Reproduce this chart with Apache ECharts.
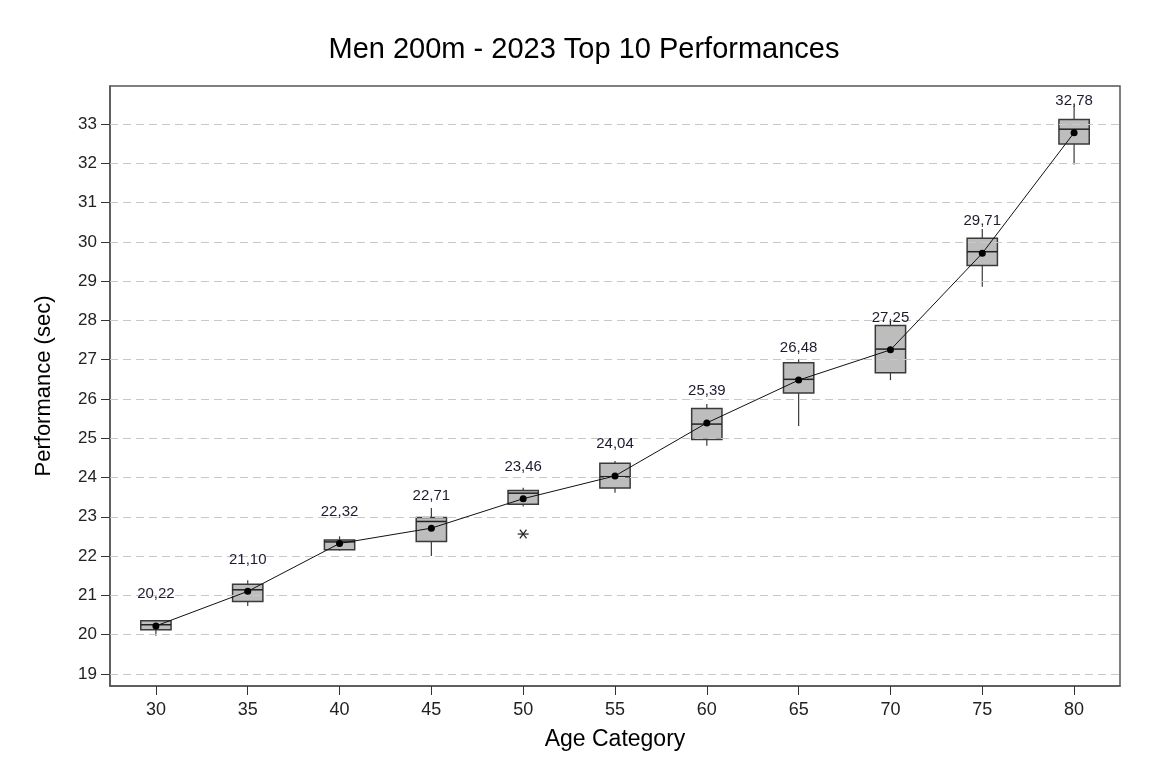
<!DOCTYPE html>
<html>
<head>
<meta charset="utf-8">
<script src="https://cdn.jsdelivr.net/npm/echarts@6/dist/echarts.min.js"></script>
<style>
html,body{margin:0;padding:0;background:#fff;}
#chart{width:1168px;height:778px;}
</style>
</head>
<body>
<div id="chart"></div>
<script>
var categories = ['30','35','40','45','50','55','60','65','70','75','80'];
var whiskerLow  = [19.97, 20.73, 22.14, 22.00, 23.26, 23.61, 24.81, 25.31, 26.48, 28.86, 31.97];
var q1          = [20.12, 20.84, 22.16, 22.37, 23.32, 23.73, 24.97, 26.15, 26.67, 29.40, 32.49];
var medians     = [20.25, 21.14, 22.36, 22.88, 23.60, 24.02, 25.36, 26.50, 27.27, 29.75, 32.87];
var q3          = [20.35, 21.28, 22.41, 22.98, 23.67, 24.36, 25.76, 26.92, 27.87, 30.09, 33.12];
var whiskerHigh = [20.35, 21.38, 22.50, 23.22, 23.74, 24.42, 25.87, 27.01, 28.04, 30.33, 33.48];
var means       = [20.22, 21.10, 22.32, 22.71, 23.46, 24.04, 25.39, 26.48, 27.25, 29.71, 32.78];
var outlierCats = ['50'];
var outlierVals = [22.56];
var yTicks = [19,20,21,22,23,24,25,26,27,28,29,30,31,32,33];

var boxData = categories.map(function(c, i){
  return [i, whiskerLow[i], q1[i], medians[i], q3[i], whiskerHigh[i]];
});
var outlierData = outlierCats.map(function(c, i){
  return [categories.indexOf(c), outlierVals[i]];
});

var chart = echarts.init(document.getElementById('chart'));
var option = {
  backgroundColor: '#fff',
  animation: false,
  title: {
    text: 'Men 200m - 2023 Top 10 Performances',
    left: 'center',
    top: 30,
    textStyle: {fontFamily: 'Liberation Sans, Arial, sans-serif', fontSize: 29, fontWeight: 'normal', color: '#000'}
  },
  grid: {left: 110, right: 48, top: 86, bottom: 92, show: true, borderColor: '#555', borderWidth: 1.5, backgroundColor: 'transparent'},
  xAxis: {
    type: 'category',
    data: categories,
    boundaryGap: true,
    name: 'Age Category',
    nameLocation: 'middle',
    nameGap: 42,
    nameTextStyle: {fontFamily: 'Liberation Sans, Arial, sans-serif', fontSize: 23, color: '#000'},
    axisLine: {show: true, lineStyle: {color: '#555', width: 1.5}},
    axisTick: {show: true, alignWithLabel: true, length: 9, lineStyle: {color: '#333'}},
    axisLabel: {fontFamily: 'Liberation Sans Narrow, Arial Narrow, sans-serif', fontSize: 18, color: '#222', margin: 15},
    splitLine: {show: false}
  },
  yAxis: {
    type: 'value',
    min: 18.69,
    max: 33.97,
    name: 'Performance (sec)',
    nameLocation: 'middle',
    nameGap: 55,
    nameTextStyle: {fontFamily: 'Liberation Sans, Arial, sans-serif', fontSize: 22, color: '#000'},
    axisLine: {show: true, lineStyle: {color: '#555', width: 1.5}},
    axisTick: {show: true, length: 9, lineStyle: {color: '#333'}, customValues: yTicks},
    axisLabel: {fontFamily: 'Liberation Sans, Arial, sans-serif', fontSize: 17, color: '#222', margin: 13, customValues: yTicks},
    splitLine: {show: false}
  },
  series: [
    {
      type: 'line',
      name: 'grid',
      data: [],
      silent: true,
      markLine: {
        silent: true,
        symbol: 'none',
        label: {show: false},
        lineStyle: {color: '#c8c8c8', type: [8, 5], width: 1},
        data: yTicks.map(function(t){ return {yAxis: t}; })
      },
      z: 1
    },
    {
      type: 'custom',
      name: 'box',
      data: boxData,
      z: 3,
      renderItem: function(params, api){
        var x = api.value(0);
        var lo = api.coord([x, api.value(1)]);
        var b1 = api.coord([x, api.value(2)]);
        var md = api.coord([x, api.value(3)]);
        var b3 = api.coord([x, api.value(4)]);
        var hi = api.coord([x, api.value(5)]);
        var w = api.size([1, 0])[0] * 0.33;
        var cx = lo[0];
        var stroke = {stroke: '#3a3a3a', lineWidth: 1.2};
        return {
          type: 'group',
          children: [
            {type: 'line', shape: {x1: cx, y1: lo[1], x2: cx, y2: b1[1]}, style: stroke},
            {type: 'line', shape: {x1: cx, y1: b3[1], x2: cx, y2: hi[1]}, style: stroke},
            {type: 'rect', shape: {x: cx - w/2, y: b3[1], width: w, height: b1[1] - b3[1]}, style: {fill: '#bdbdbd', stroke: '#3a3a3a', lineWidth: 1.5}},
            {type: 'line', shape: {x1: cx - w/2, y1: md[1], x2: cx + w/2, y2: md[1]}, style: {stroke: '#222', lineWidth: 1.5}}
          ]
        };
      }
    },
    {
      type: 'custom',
      name: 'outliers',
      data: outlierData,
      z: 3,
      renderItem: function(params, api){
        var p = api.coord([api.value(0), api.value(1)]);
        var r = 5.5;
        var st = {stroke: '#222', lineWidth: 1.2};
        return {
          type: 'group',
          children: [
            {type: 'line', shape: {x1: p[0] - r, y1: p[1], x2: p[0] + r, y2: p[1]}, style: st},
            {type: 'line', shape: {x1: p[0] - r*0.6, y1: p[1] - r*0.8, x2: p[0] + r*0.6, y2: p[1] + r*0.8}, style: st},
            {type: 'line', shape: {x1: p[0] - r*0.6, y1: p[1] + r*0.8, x2: p[0] + r*0.6, y2: p[1] - r*0.8}, style: st}
          ]
        };
      }
    },
    {
      type: 'line',
      name: 'mean',
      data: means,
      z: 5,
      symbol: 'circle',
      symbolSize: 7,
      itemStyle: {color: '#000'},
      lineStyle: {color: '#111', width: 1},
      label: {
        show: true,
        position: 'top',
        distance: 21,
        fontFamily: 'Liberation Sans, Arial, sans-serif',
        fontSize: 15,
        color: '#1c1c30',
        formatter: function(p){ return p.value.toFixed(2).replace('.', ','); }
      }
    }
  ]
};
chart.setOption(option);
</script>
</body>
</html>
